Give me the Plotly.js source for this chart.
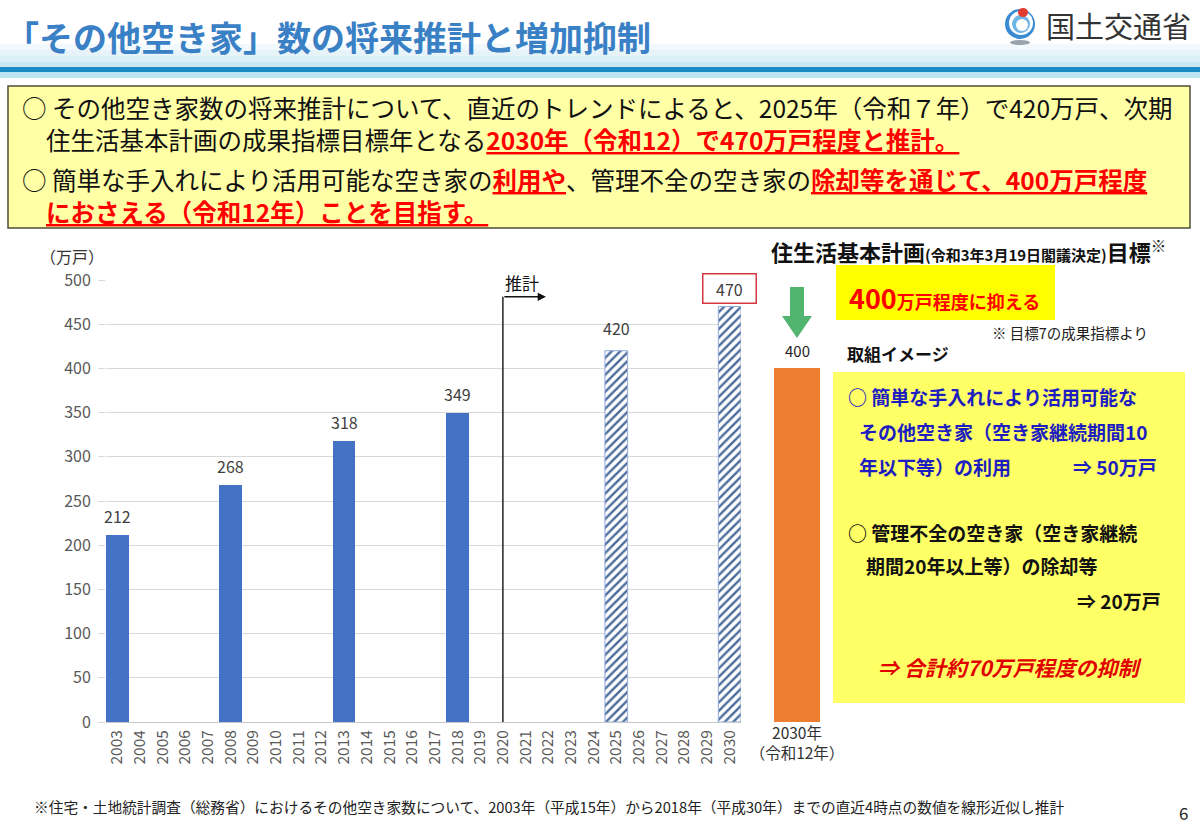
<!DOCTYPE html>
<html><head><meta charset="utf-8">
<script src="https://cdn.plot.ly/plotly-3.0.1.min.js"></script>
<style>html,body{margin:0;padding:0;background:#fff;}#chart{width:1200px;height:840px;}</style>
</head><body><div id="chart"></div>
<script>
// ---------- data ----------
const years = ['2003','2004','2005','2006','2007','2008','2009','2010','2011','2012','2013','2014','2015','2016','2017','2018','2019','2020','2021','2022','2023','2024','2025','2026','2027','2028','2029','2030'];
const actualYears = ['2003','2008','2013','2018'];
const actualValues = [212, 268, 318, 349];
const projYears = ['2025','2030'];
const projValues = [420, 470];
const targetCategories = ['2030年<br>（令和12年）'];
const targetValues = [400];
const estimateStartYear = '2020';
const yTicks = [0,50,100,150,200,250,300,350,400,450,500];

// ---------- helpers ----------
const W = 1200, H = 840;
const X = p => p / W;
const Y = p => 1 - p / H;
const JP = '"Noto Sans CJK JP", "Noto Sans", sans-serif';
const RED = '#ff0000';

function rect(x0, y0, x1, y1, fill, line, lw) {
  return {type:'rect', xref:'paper', yref:'paper', x0:X(x0), x1:X(x1), y0:Y(y1), y1:Y(y0),
    fillcolor:fill, line:{color:line||fill, width: line ? (lw||1) : 0}, layer:'below'};
}
function circ(x0, y0, x1, y1, fill) {
  return {type:'circle', xref:'paper', yref:'paper', x0:X(x0), x1:X(x1), y0:Y(y1), y1:Y(y0),
    fillcolor:fill, line:{width:0}, layer:'above'};
}
function txt(x, y, text, size, color, opts) {
  return Object.assign({xref:'paper', yref:'paper', x:X(x), y:Y(y), text:text, showarrow:false,
    xanchor:'left', yanchor:'middle', font:{family:JP, size:size, color:color||'#000'}}, opts||{});
}
const redU = s => '<span style="color:'+RED+';font-weight:bold;text-decoration:underline">'+s+'</span>';
const idx = yr => years.indexOf(yr);

// ---------- traces ----------
const traces = [
  {type:'bar', x:actualYears, y:actualValues, xaxis:'x', yaxis:'y',
   marker:{color:'#4472c4'}, hoverinfo:'skip'},
  {type:'bar', x:projYears, y:projValues, xaxis:'x', yaxis:'y',
   marker:{color:'#ffffff', line:{color:'#8eaadb', width:1},
     pattern:{shape:'/', fgcolor:'#4a6a9c', bgcolor:'#ffffff', size:6, solidity:0.4}}, hoverinfo:'skip'},
  {type:'bar', x:targetCategories, y:targetValues, xaxis:'x2', yaxis:'y2',
   marker:{color:'#ed7d31'}, hoverinfo:'skip'}
];

// ---------- annotations ----------
const ann = [];
actualYears.forEach((yr,i)=> ann.push({xref:'x', yref:'y', x:idx(yr), y:actualValues[i], text:String(actualValues[i]),
  showarrow:false, yanchor:'bottom', yshift:5, font:{family:JP, size:16, color:'#404040'}}));
projYears.forEach((yr,i)=> {
  const last = i === projYears.length-1;
  ann.push(Object.assign({xref:'x', yref:'y', x:idx(yr), y:projValues[i], text:String(projValues[i]),
    showarrow:false, yanchor:'bottom', yshift: last ? 3 : 9, font:{family:JP, size:16, color:'#404040'}},
    last ? {bordercolor:'#d0393e', borderwidth:1.5, borderpad:2, width:48, bgcolor:'#ffffff'} : {}));
});
targetCategories.forEach((c,i)=> ann.push({xref:'x2', yref:'y2', x:0, y:targetValues[i], text:String(targetValues[i]),
  showarrow:false, yanchor:'bottom', yshift:5, font:{family:JP, size:15, color:'#222'}}));

const estIdx = idx(estimateStartYear);
const arrowTop = 481;
ann.push({xref:'x', yref:'y', x:estIdx+1.9, y:arrowTop, ax:estIdx, ay:arrowTop, axref:'x', ayref:'y',
  text:'', showarrow:true, arrowhead:2, arrowsize:1.1, arrowwidth:1.5, arrowcolor:'#111', standoff:0});
ann.push({xref:'x', yref:'y', x:estIdx+0.85, y:497, text:'推計', showarrow:false,
  font:{family:JP, size:17, color:'#111'}});
ann.push(txt(72, 256, '（万戸）', 16, '#333', {xanchor:'center'}));

// header
ann.push(txt(3, 37, '<b>「その他空き家」数の将来推計と増加抑制</b>', 34, '#3a80c5'));
ann.push(txt(1044, 25, '国土交通省', 29, '#333'));

// top box text
ann.push(txt(20, 108, '○ その他空き家数の将来推計について、直近のトレンドによると、2025年（令和７年）で420万戸、次期', 24.5, '#111'));
ann.push(txt(44, 140, '住生活基本計画の成果指標目標年となる' + redU('2030年（令和12）で470万戸程度と推計。'), 24.5, '#111'));
ann.push(txt(20, 179, '○ 簡単な手入れにより活用可能な空き家の' + redU('利用や') + '、管理不全の空き家の' + redU('除却等を通じて、400万戸程度'), 24.5, '#111'));
ann.push(txt(44, 211, redU('におさえる（令和12年）ことを目指す。'), 24.5, '#111'));

// right panel
ann.push(txt(769, 250, '<b>住生活基本計画</b><span style="font-size:15px;font-weight:bold">(令和3年3月19日閣議決定)</span><b>目標</b><sup>※</sup>', 22, '#111'));
ann.push(txt(847, 297, '<span style="font-size:27px">400</span>万戸程度に抑える', 18, RED, {font:{family:JP, size:18, color:RED, weight:'bold'}}));
ann.push(txt(990, 333, '※ 目標7の成果指標より', 14.5, '#222'));
ann.push(txt(845, 353, '<b>取組イメージ</b>', 17, '#111'));

const BLUE = '#1e1ec0';
ann.push(txt(846, 396, '<b>○ 簡単な手入れにより活用可能な</b>', 19, BLUE));
ann.push(txt(857, 432, '<b>その他空き家（空き家継続期間10</b>', 19, BLUE));
ann.push(txt(857, 466, '<b>年以下等）の利用</b>', 19, BLUE));
ann.push(txt(1159, 466, '<b>⇒ 50万戸</b>', 19, BLUE, {xanchor:'right'}));
ann.push(txt(846, 532, '<b>○ 管理不全の空き家（空き家継続</b>', 19, '#111'));
ann.push(txt(864, 565, '<b>期間20年以上等）の除却等</b>', 19, '#111'));
ann.push(txt(1163, 600, '<b>⇒ 20万戸</b>', 19, '#111', {xanchor:'right'}));
ann.push(txt(1010, 667, '<b><i>⇒ 合計約70万戸程度の抑制</i></b>', 21, '#e00000', {xanchor:'center'}));

// footer
ann.push(txt(32, 806, '※住宅・土地統計調査（総務省）におけるその他空き家数について、2003年（平成15年）から2018年（平成30年）までの直近4時点の数値を線形近似し推計', 14.7, '#222'));
ann.push(txt(1183, 812, '6', 17, '#222', {xanchor:'center'}));

// ---------- shapes ----------
const shapes = [
  rect(0, 44, 1200, 50, '#f1f9fd'),
  rect(0, 50, 1200, 56, '#e6f4fa'),
  rect(0, 56, 1200, 62, '#dbeff8'),
  rect(0, 62, 1200, 67, '#c9e8f4'),
  rect(0, 67, 1200, 72, '#1a8ac4'),
  rect(0, 72, 1200, 78, '#bce3f1'),
  rect(8, 86, 1190, 228, '#ffffa6', '#4d4d3a', 1.5),
  rect(836, 265, 1055, 320, '#ffff00'),
  rect(833, 372, 1185, 703, '#ffff66'),
  // logo
  circ(1005, 9, 1035, 39, '#3b8bd4'),
  circ(1009, 11, 1033, 35, '#ffffff'),
  circ(1012, 15, 1030, 33, '#6fb6e6'),
  circ(1016, 19, 1028, 31, '#ffffff'),
  circ(1018, 8, 1028, 17, '#e03c31'),
  circ(1010, 40, 1030, 45, '#9aa3ab'),
  // estimate start line
  {type:'line', xref:'x', yref:'y', x0:estIdx, x1:estIdx, y0:0, y1:arrowTop, line:{color:'#222', width:1.5}},
  // green arrow
  {type:'path', xref:'paper', yref:'paper', fillcolor:'#52b56f', line:{width:0},
   path:'M'+X(790)+','+Y(287)+' L'+X(804)+','+Y(287)+' L'+X(804)+','+Y(316)+' L'+X(812)+','+Y(316)+
        ' L'+X(797)+','+Y(338)+' L'+X(782)+','+Y(316)+' L'+X(790)+','+Y(316)+' Z'}
];

// ---------- layout ----------
const layout = {
  width:W, height:H, margin:{l:0,r:0,t:0,b:0}, paper_bgcolor:'#ffffff', plot_bgcolor:'rgba(0,0,0,0)',
  showlegend:false, barmode:'overlay', bargap:0,
  font:{family:JP},
  xaxis:{domain:[X(106), X(741)], anchor:'y', type:'category', categoryorder:'array', categoryarray:years,
    range:[-0.5, years.length-0.5], tickangle:-90, tickfont:{family:JP, size:15.5, color:'#595959'},
    showgrid:false, showline:false, ticks:'', ticklabelstandoff:4, fixedrange:true},
  yaxis:{domain:[Y(722), Y(280)], anchor:'x', range:[0,500], tickvals:yTicks, showgrid:true, gridcolor:'#d9d9d9',
    gridwidth:1, zeroline:true, zerolinecolor:'#c8c8c8', zerolinewidth:1, ticks:'outside', ticklen:7, tickcolor:'#d9d9d9',
    tickfont:{family:JP, size:16, color:'#595959'}, ticklabelstandoff:4, showline:false, fixedrange:true},
  xaxis2:{domain:[X(774), X(820)], anchor:'y2', type:'category', showgrid:false, showline:false, zeroline:false,
    ticks:'', tickangle:0, tickfont:{family:JP, size:15.5, color:'#333'}, fixedrange:true},
  yaxis2:{domain:[Y(722), Y(280)], anchor:'x2', range:[0,500], visible:false, fixedrange:true},
  annotations:ann, shapes:shapes
};

Plotly.newPlot('chart', traces, layout, {displayModeBar:false, staticPlot:true});
</script>
</body></html>
